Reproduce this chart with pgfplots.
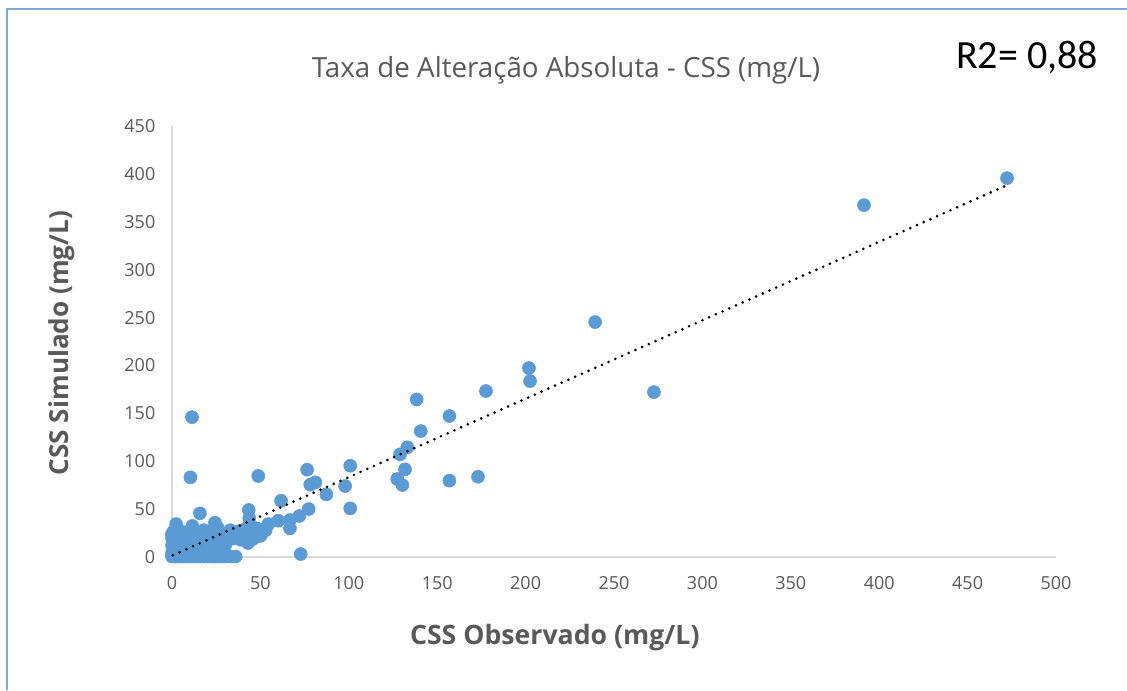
\documentclass[border=0pt]{standalone}
\usepackage{fontspec}
\setmainfont{Open Sans}
\newfontfamily\calib{Carlito}
\usepackage{pgfplots}
\pgfplotsset{compat=1.18}
\definecolor{txtgray}{RGB}{89,89,89}
\definecolor{axgray}{RGB}{217,217,217}
\definecolor{ptblue}{RGB}{91,155,213}
\definecolor{frameblue}{RGB}{120,170,220}
\pgfplotsset{geom/.style={at={(129pt,-417.75pt)}, anchor=south west,
  scale only axis, width=663pt, height=323.25pt,
  xmin=0, xmax=500, ymin=0, ymax=450, clip=false}}
\begin{document}
\begin{tikzpicture}
\useasboundingbox (0,0) rectangle (845.25pt,-517.5pt);
\draw[frameblue, line width=1.1pt] (5.25pt,-517.5pt) -- (5.25pt,-6.75pt) -- (845.25pt,-6.75pt);
\begin{axis}[
  geom,
  xtick distance=50, ytick distance=50,
  axis x line*=bottom, axis y line*=left,
  axis line style={axgray, line width=1.1pt, -},
  major tick length=0pt,
  /pgf/number format/assume math mode=true,
  tick label style={font=\fontsize{13.5}{16}\selectfont, text=txtgray},
  xticklabel style={yshift=-11pt},
  yticklabel style={xshift=-9pt},
  title={Taxa de Alteração Absoluta - CSS (mg/L)},
  title style={at={(axis description cs:0.4457,1.111)}, anchor=center, font=\fontsize{20.8}{24}\selectfont, text=txtgray},
  xlabel={CSS Observado (mg/L)},
  xlabel style={at={(axis description cs:0.433,-0.186)}, anchor=center, font=\fontsize{20}{24}\selectfont\bfseries, text=txtgray},
  ylabel={CSS Simulado (mg/L)},
  ylabel style={at={(axis description cs:-0.1244,0.4965)}, anchor=center, font=\fontsize{19.6}{23}\selectfont\bfseries, text=txtgray},
]
\addplot[only marks, mark=*, mark size=4.9pt, mark options={fill=ptblue, draw=ptblue}] coordinates {
(472.3,395.6) (391.4,367.4) (239.3,245.3) (201.9,197.3) (202.5,183.7)
(272.6,172.2) (177.6,173.3) (138.4,164.5) (156.9,147.2) (11.3,146)
(140.7,131.5) (133.1,114.5) (129,107.2) (131.8,91.5) (127.4,81.4)
(130.3,75.2) (156.9,79.7) (173.1,83.8) (48.8,84.6) (10.4,83.2)
(76.4,91.2) (100.8,95.3) (78.2,75.5) (81.1,78) (97.9,74.1)
(87.3,65.4) (100.8,50.8) (61.7,58.8) (77.3,50.1) (72,42.8)
(66.7,38.6) (66.7,29.9) (60.1,37.9) (54.5,34.4) (51.1,25.4)
(72.8,3.1) (43.4,49.1) (43.7,40.4) (45.8,30.3) (15.8,45.6)
(2.3,34.4) (11.5,32.4) (24.3,35.8) (43.2,16) (35.1,19.5)
(0,0.5) (2,0.5) (4,0.5) (6,0.5) (8,0.5) (10,0.5) (12,0.5) (14,0.5) (16,0.5) (18,0.5) (20,0.5) (22,0.5) (24,0.5) (26,0.5) (28,0.5) (30,0.5) (33,0.5) (36,0.5)
(0,4) (3,4) (6,4) (9,4) (12,4) (15,4) (18,4) (21,4) (24,4) (27,4) (30,4)
(1,8) (4,8) (7,8) (10,8) (13,8) (16,8) (19,8) (22,8) (25,8) (28,8)
(0,12) (3,12) (6,12) (9,12) (12,12) (15,12) (18,12) (21,12) (24,12) (27,12) (30,12)
(1,16) (4,16) (7,16) (10,16) (13,16) (16,16) (19,16) (22,16) (25,16) (28,16) (31,16)
(0,20) (3,20) (6,20) (9,20) (12,20) (15,20) (18,20) (21,20) (24,20) (27,20) (30,20) (33,20) (37,20)
(0,24) (4,24) (8,24) (12,24) (16,24) (20,24) (24,24) (28,24) (32,24) (35,24)
(40,22) (44,24) (47,27) (50,22) (38,27) (42,30) (48,30) (53,28) (36,26) (46,19) (39,18) (43,14.6) (47,22) (50,28)
(1,27) (5,27) (10,27) (18,28) (26,30) (33,28) (22,27)
};
\end{axis}
\begin{axis}[geom, hide axis]
\addplot[black, line width=2.2pt, line cap=round, dash pattern=on 0pt off 5.5pt] coordinates {(0.5,1.9) (472,388)};
\end{axis}
\node[font=\calib\fontsize{30}{34}\selectfont, anchor=center] at (770.25pt,-42.75pt) {R2= 0,88};
\end{tikzpicture}
\end{document}
